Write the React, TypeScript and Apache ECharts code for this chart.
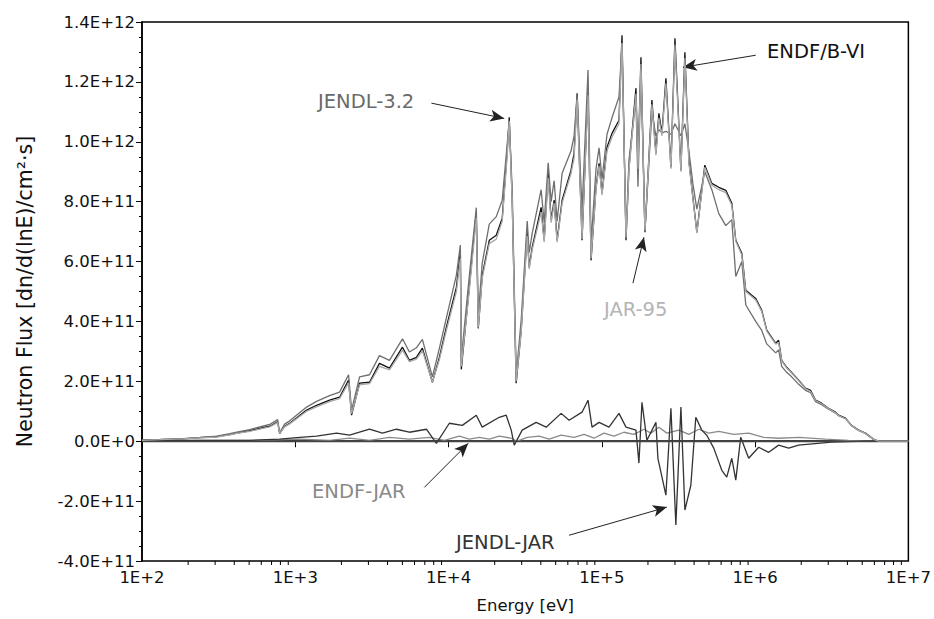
import React, { useEffect, useRef } from "react";
import * as echarts from "echarts";

// Flux values are in units of 1E+11 n/(lnE)/cm2/s
const UNIT = 1e11;

const energyGrid = [
  100,131,185,239,307,374,415,504,613,681,767,791,852,920,
  1186,1377,1674,1945,2227,2330,2627,3050,3541,4117,
  5004,5554,6169,6750,7845,8710,9680,11250,11940,12110,
  13650,15170,15630,16590,18440,20480,22400,24150,24890,26020,
  27620,29780,32600,33580,35150,40190,42060,44670,46710,48860,
  51090,55080,62990,65920,69020,74300,81280,85070,91620,95940,
  100300,108100,116500,129400,135400,143800,150400,167000,172100,180000,
  191100,212200,225300,235700,246700,261900,282400,299900,328100,348300,
  369800,392700,416900,469900,522000,579500,644200,704700,748200,818800,
  869500,1009000,1105000,
  1191000,1363000,1424000,1491000,1606000,1731000,1923000,2134000,2301000,2481000,
  2714000,3013000,3347000,3500000,3889000,4254000,4727000,5248000,5916000,6380000,10000000,
];

const endfB6 = [
  0.03,0.05,0.08,0.12,0.15,0.22,0.27,0.35,0.45,0.50,0.65,0.25,0.50,0.60,
  1.04,1.20,1.37,1.47,2.04,0.87,1.94,1.97,2.60,2.44,
  3.14,2.70,2.80,3.11,1.97,2.80,3.81,5.14,6.31,2.40,
  5.14,7.65,3.77,5.54,6.71,6.88,7.45,9.72,10.82,8.05,
  1.94,3.71,6.98,5.81,6.48,7.81,6.71,8.98,7.38,8.05,
  6.71,8.05,9.05,9.62,11.62,6.71,11.72,6.04,8.48,9.28,
  8.28,9.82,10.28,10.72,13.56,6.71,9.15,11.79,9.15,12.82,
  6.98,11.39,9.62,10.95,10.28,12.12,9.15,13.46,9.05,12.99,
  9.38,8.15,6.98,9.22,8.61,8.48,8.38,7.95,6.71,6.28,
  5.04,4.77,4.37,
  3.71,3.27,3.37,2.70,2.47,2.30,2.04,1.77,1.70,1.37,
  1.27,1.10,0.97,0.87,0.77,0.53,0.37,0.27,0.07,0,0,
];

const jendl32 = [
  0.04,0.06,0.09,0.13,0.17,0.25,0.30,0.39,0.50,0.56,0.72,0.29,0.57,0.68,
  1.14,1.33,1.52,1.64,2.22,1.03,2.15,2.22,2.86,2.70,
  3.42,2.98,3.12,3.40,2.15,3.10,4.12,5.55,6.55,2.75,
  5.50,7.80,4.20,5.95,7.25,7.50,8.05,9.95,10.65,8.40,
  2.20,4.05,7.35,6.30,6.95,8.40,7.30,9.30,8.00,8.70,
  7.35,8.95,9.70,10.20,11.60,7.70,12.40,6.60,9.10,9.80,
  8.75,10.25,10.80,11.50,13.30,6.90,9.40,11.40,8.50,12.40,
  7.00,11.00,10.20,10.40,10.30,10.35,10.25,10.60,10.20,10.60,
  9.70,8.60,7.75,9.00,8.40,7.60,7.20,7.40,5.50,6.00,
  4.55,4.00,3.70,
  3.25,2.95,3.05,2.50,2.30,2.15,1.90,1.70,1.62,1.32,
  1.22,1.07,0.94,0.85,0.75,0.52,0.36,0.26,0.06,0,0,
];

const jar95 = [
  0.03,0.05,0.08,0.11,0.14,0.21,0.26,0.33,0.43,0.48,0.62,0.26,0.48,0.58,
  1.00,1.15,1.32,1.42,1.95,0.92,1.88,1.92,2.50,2.38,
  3.04,2.66,2.74,3.02,1.98,2.72,3.70,5.00,6.10,2.50,
  5.02,7.45,3.80,5.45,6.60,6.75,7.35,9.55,10.70,7.95,
  2.00,3.65,6.85,5.75,6.40,7.65,6.65,8.80,7.30,7.95,
  6.65,7.95,8.95,9.45,11.40,6.75,11.55,6.10,8.40,9.20,
  8.22,9.70,10.15,10.60,13.30,6.80,9.05,11.60,9.10,12.60,
  7.05,11.25,9.55,10.80,10.20,11.95,9.10,13.25,9.00,12.80,
  9.30,8.10,6.95,9.15,8.55,8.40,8.30,7.88,6.68,6.22,
  5.00,4.72,4.33,
  3.68,3.24,3.30,2.68,2.45,2.28,2.02,1.76,1.66,1.36,
  1.25,1.09,0.95,0.86,0.75,0.52,0.36,0.26,0.07,0,0,
];

const jendlJarEnergy = [100,185,504,791,1069,1377,1860,2259,3050,3707,4570,5554,7172,8327,10120,12296,15170,16590,21420,23780,25640,26820,30230,37290,43320,54260,61160,74300,81280,86300,95940,111400,129400,143800,167000,174600,182800,196900,225400,232200,261800,282400,304100,328100,348300,380900,410300,448800,484000,537200,606500,653100,704700,748200,805500,907800,1055000,1227000,1425000,1656000,1923000,3155000,5248000,10000000];
const jendlJar = [0.03,0.03,0.03,0.07,0.13,0.17,0.27,0.20,0.40,0.27,0.40,0.30,0.40,-0.07,0.60,0.53,0.87,0.47,0.80,0.87,0.37,-0.13,0.37,0.63,0.47,0.93,0.70,0.97,1.37,0.47,0.63,0.47,0.93,0.47,0.37,-0.73,1.30,0.03,0.63,-0.57,-1.80,1.10,-2.80,1.14,-2.30,-1.47,0.80,0.37,0.20,-0.23,-0.97,-1.20,-0.57,-1.30,0.13,-0.57,-0.20,-0.37,-0.13,-0.23,-0.13,-0.03,0,0];

const endfJarEnergy = [100,239,586,1069,1674,2259,3050,4117,5554,7499,9390,11750,13650,15870,18440,21420,25640,28050,32600,39000,45290,54260,65920,76600,88960,103300,120000,139300,162000,188200,209100,235700,265800,318200,369700,429500,498900,579400,725400,908400,1138000,1424000,1923000,2882000,4069000,5742000,10000000];
const endfJar = [0,0.03,0.03,0.07,0.03,0.10,0.03,0.13,0.07,0.13,0.03,0.17,0.07,0.13,0.07,0.17,0.10,0,0.13,0.17,0.07,0.20,0.13,0.23,0.10,0.27,0.17,0.30,0.23,0.40,0.27,0.47,0.27,0.37,0.23,0.40,0.27,0.33,0.23,0.27,0.13,0.10,0.13,0.07,0.03,0,0];

const X_MIN = 100;
const X_MAX = 1e7;
const Y_MIN = -4e11;
const Y_MAX = 1.4e12;
const Y_INTERVAL = 2e11;

// Annotation arrows: [label, fromEnergy, fromFlux(1E11), toEnergy, toFlux(1E11)]
const arrows: [string, number, number, number, number][] = [
  ["ENDF/B-VI", 1009000, 12.89, 338000, 12.49],
  ["JENDL-3.2", 7730, 11.29, 23080, 10.78],
  ["JAR-95", 159600, 5.28, 188300, 6.81],
  ["ENDF-JAR", 6955, -1.54, 13450, -0.07],
  ["JENDL-JAR", 61130, -3.14, 265700, -2.2],
];

const FONT = "'DejaVu Sans', 'Liberation Sans', Arial, sans-serif";

function pairs(xs: number[], ys: number[]) {
  return xs.map((x, i) => [x, ys[i] * UNIT]);
}

export default function App() {
  const ref = useRef<HTMLDivElement>(null);
  useEffect(() => {
    if (!ref.current) return;
    const chart = echarts.init(ref.current, undefined, { renderer: "svg" });

    const minorTicks: number[][] = [];
    for (let d = 100; d < X_MAX; d *= 10) {
      for (let k = 2; k <= 9; k++) minorTicks.push([d * k, Y_MIN]);
    }

    const lineBase = {
      type: "line",
      showSymbol: false,
      symbol: "none",
      smooth: false,
      silent: true,
      animation: false,
    };

    chart.setOption({
      animation: false,
      grid: {
        left: 142,
        right: 24,
        top: 22,
        bottom: 58,
        show: true,
        borderColor: "#000",
        borderWidth: 1.5,
      },
      xAxis: {
        type: "log",
        logBase: 10,
        min: X_MIN,
        max: X_MAX,
        name: "Energy [eV]",
        nameLocation: "middle",
        nameGap: 36,
        nameTextStyle: { fontFamily: FONT, fontSize: 16.5, color: "#111" },
        axisLine: { show: true, lineStyle: { color: "#000", width: 1.5 } },
        axisTick: { show: true, inside: false, length: 6, lineStyle: { color: "#000" } },
        axisLabel: {
          fontFamily: FONT,
          fontSize: 16.5,
          color: "#111",
          margin: 8,
          formatter: (v: number) => "1E+" + Math.round(Math.log10(v)),
        },
        splitLine: { show: false },
      },
      yAxis: {
        type: "value",
        min: Y_MIN,
        max: Y_MAX,
        interval: Y_INTERVAL,
        name: "Neutron Flux [dn/d(lnE)/cm²·s]",
        nameLocation: "middle",
        nameGap: 107,
        nameTextStyle: { fontFamily: FONT, fontSize: 20.5, color: "#111" },
        axisLine: { show: true, lineStyle: { color: "#000", width: 1.5 } },
        axisTick: { show: true, inside: false, length: 6, lineStyle: { color: "#000" } },
        minorTick: { show: true, splitNumber: 4, length: 3, lineStyle: { color: "#000" } },
        axisLabel: {
          fontFamily: FONT,
          fontSize: 16.5,
          color: "#111",
          margin: 7,
          formatter: (v: number) =>
            v === 0 ? "0.0E+0" : v.toExponential(1).replace("e", "E"),
        },
        splitLine: { show: false },
      },
      series: [
        {
          ...lineBase,
          name: "ENDF/B-VI",
          data: pairs(energyGrid, endfB6),
          lineStyle: { color: "#111", width: 1.3 },
          z: 3,
          markLine: {
            silent: true,
            symbol: ["none", "arrow"],
            symbolSize: [9, 14],
            label: { show: false },
            lineStyle: { color: "#222", width: 1, type: "solid" },
            data: arrows.map((a) => [
              { coord: [a[1], a[2] * UNIT] },
              { coord: [a[3], a[4] * UNIT] },
            ]),
          },
        },
        {
          ...lineBase,
          name: "JENDL-3.2",
          data: pairs(energyGrid, jendl32),
          lineStyle: { color: "#6e6e6e", width: 1.3 },
          z: 4,
        },
        {
          ...lineBase,
          name: "JAR-95",
          data: pairs(energyGrid, jar95),
          lineStyle: { color: "#a8a8a8", width: 1.3 },
          z: 5,
        },
        {
          ...lineBase,
          name: "ENDF-JAR",
          data: pairs(endfJarEnergy, endfJar),
          lineStyle: { color: "#8a8a8a", width: 1.3 },
          z: 3,
          markLine: {
            silent: true,
            symbol: "none",
            label: { show: false },
            lineStyle: { color: "#444", width: 1.3, type: "solid" },
            data: [{ yAxis: 0 }],
          },
        },
        {
          ...lineBase,
          name: "JENDL-JAR",
          data: pairs(jendlJarEnergy, jendlJar),
          lineStyle: { color: "#333", width: 1.3 },
          z: 4,
        },
        {
          type: "custom",
          name: "xMinorTicks",
          silent: true,
          clip: false,
          z: 10,
          data: minorTicks,
          encode: { x: 0, y: 1 },
          renderItem: (params: any, api: any) => {
            const p = api.coord([api.value(0), Y_MIN]);
            return {
              type: "line",
              shape: { x1: p[0], y1: p[1], x2: p[0], y2: p[1] + 4 },
              style: { stroke: "#000", lineWidth: 1 },
            };
          },
        },
      ],
      graphic: [
        { type: "text", left: 767, top: 41, style: { text: "ENDF/B-VI", fill: "#111", font: `19.5px ${FONT}` } },
        { type: "text", left: 318, top: 91, style: { text: "JENDL-3.2", fill: "#6a6a6a", font: `19.5px ${FONT}` } },
        { type: "text", left: 604, top: 299, style: { text: "JAR-95", fill: "#b4b4b4", font: `19.5px ${FONT}` } },
        { type: "text", left: 312, top: 481, style: { text: "ENDF-JAR", fill: "#8a8a8a", font: `19.5px ${FONT}` } },
        { type: "text", left: 456, top: 532, style: { text: "JENDL-JAR", fill: "#333", font: `19.5px ${FONT}` } },
      ],
    });
    return () => chart.dispose();
  }, []);
  return (
    <div
      ref={ref}
      style={{ position: "absolute", left: 0, top: 0, width: 934, height: 619 }}
    />
  );
}
